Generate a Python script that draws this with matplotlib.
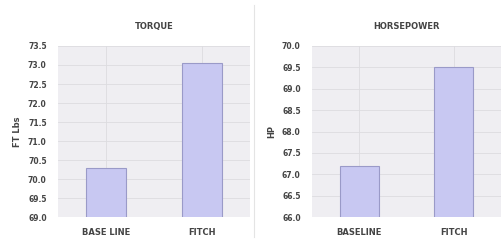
import matplotlib
matplotlib.use("Agg")
import matplotlib.pyplot as plt
import numpy as np

categories_torque = ["BASE LINE", "FITCH"]
torque = [70.3, 73.05]
torque_ticks = [69.0, 69.5, 70.0, 70.5, 71.0, 71.5, 72.0, 72.5, 73.0, 73.5]

categories_hp = ["BASELINE", "FITCH"]
hp = [67.2, 69.5]
hp_ticks = [66.0, 66.5, 67.0, 67.5, 68.0, 68.5, 69.0, 69.5, 70.0]

bar_face = "#c8c8f2"
bar_edge = "#9a9ac8"
bg = "#efeef2"
txt = "#444444"

fig = plt.figure(figsize=(5.03, 2.42), dpi=100)
fig.patch.set_facecolor("white")

def panel(rect, cats, vals, ticks, title, ylabel):
    ax = fig.add_axes(rect)
    ax.set_facecolor(bg)
    x = np.arange(len(cats))
    ax.bar(x, vals, width=0.41, color=bar_face, edgecolor=bar_edge, linewidth=0.8, zorder=3)
    ax.set_xlim(-0.5, 1.5)
    ax.set_ylim(ticks[0], ticks[-1])
    ax.set_yticks(ticks)
    ax.set_yticklabels(["%.1f" % t for t in ticks], fontsize=5.5, color=txt, fontweight="bold")
    ax.set_xticks(x)
    ax.set_xticklabels(cats, fontsize=6, color=txt, fontweight="bold")
    ax.grid(True, color="#dcdce0", linewidth=0.6, zorder=0)
    ax.tick_params(length=0, pad=8)
    for s in ax.spines.values():
        s.set_visible(False)
    ax.set_title(title, fontsize=6, color=txt, fontweight="bold", pad=12)
    ax.set_ylabel(ylabel, fontsize=6, color=txt, fontweight="bold", labelpad=4)
    return ax

panel([0.115, 0.103, 0.382, 0.707], categories_torque, torque, torque_ticks, "TORQUE", "FT Lbs")
panel([0.620, 0.103, 0.376, 0.707], categories_hp, hp, hp_ticks, "HORSEPOWER", "HP")

fig.add_artist(plt.Line2D([0.505, 0.505], [0.02, 0.98], color="#e4e4e4", linewidth=0.8))

fig.savefig("out.png", dpi=100)
